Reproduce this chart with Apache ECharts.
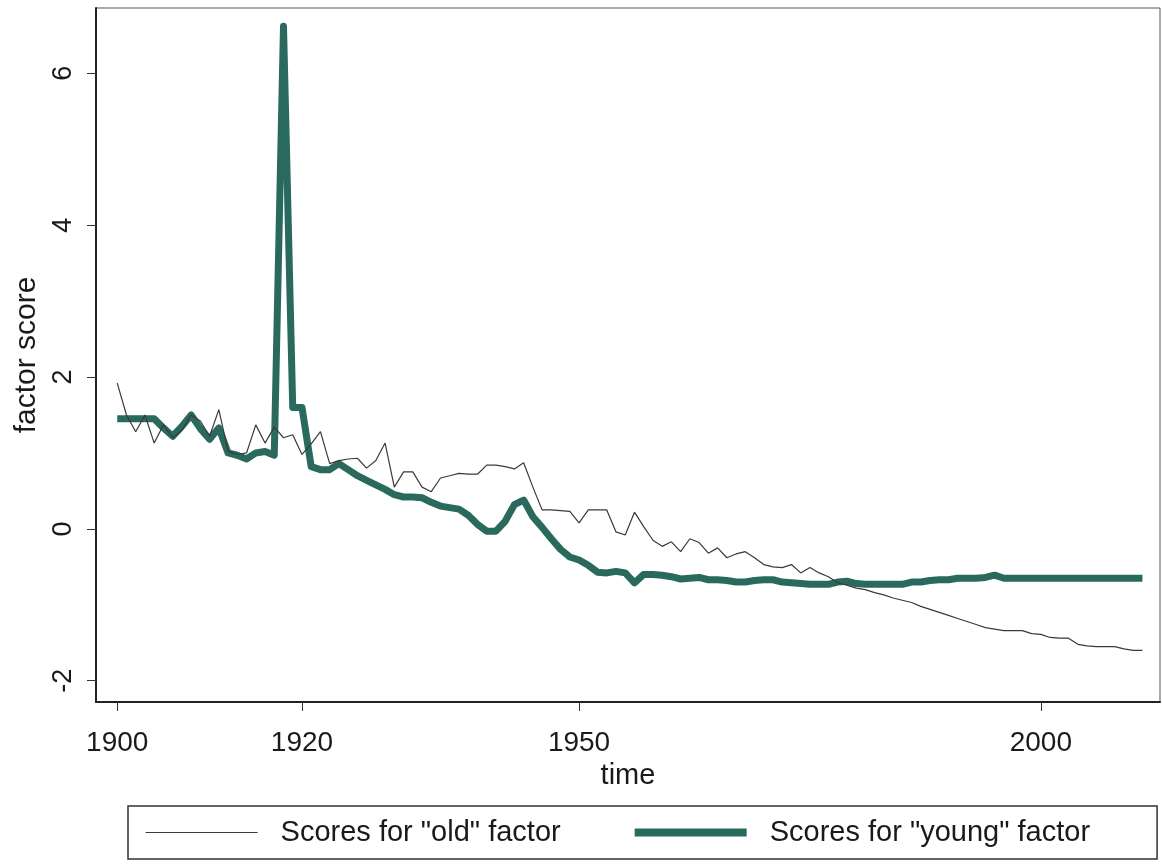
<!DOCTYPE html>
<html>
<head>
<meta charset="utf-8">
<script src="https://cdn.jsdelivr.net/npm/echarts@6/dist/echarts.min.js"></script>
<style>
html,body{margin:0;padding:0;background:#fff;}
#chart{width:1162px;height:865px;}
</style>
</head>
<body>
<div id="chart"></div>
<script>
const startYear = 1900;
const oldScores = [
  1.92, 1.5, 1.28, 1.5, 1.13, 1.37, 1.2, 1.3, 1.5, 1.42,
  1.22, 1.57, 1.02, 0.98, 1.0, 1.37, 1.13, 1.34, 1.2, 1.24,
  0.98, 1.12, 1.28, 0.86, 0.9, 0.92, 0.93, 0.8, 0.9, 1.13,
  0.55, 0.75, 0.75, 0.55, 0.49, 0.67, 0.7, 0.73, 0.72, 0.72,
  0.84, 0.84, 0.82, 0.79, 0.87, 0.55, 0.25, 0.25, 0.24, 0.23,
  0.08, 0.25, 0.25, 0.25, -0.04, -0.08, 0.22, 0.03, -0.15, -0.23,
  -0.17, -0.3, -0.13, -0.18, -0.32, -0.25, -0.38, -0.33, -0.3, -0.38,
  -0.47, -0.5, -0.51, -0.47, -0.58, -0.51, -0.58, -0.63, -0.71, -0.74,
  -0.78, -0.8, -0.84, -0.87, -0.91, -0.94, -0.97, -1.02, -1.06, -1.1,
  -1.14, -1.18, -1.22, -1.26, -1.3, -1.32, -1.34, -1.34, -1.34, -1.38,
  -1.39, -1.43, -1.44, -1.44, -1.52, -1.54, -1.55, -1.55, -1.55, -1.58,
  -1.6, -1.6
];
const youngScores = [
  1.45, 1.45, 1.45, 1.45, 1.45, 1.33, 1.22, 1.35, 1.5, 1.32,
  1.18, 1.33, 1.0, 0.97, 0.92, 1.0, 1.02, 0.97, 6.62, 1.6,
  1.6, 0.82, 0.78, 0.78, 0.86, 0.78, 0.7, 0.64, 0.58, 0.52,
  0.45, 0.42, 0.42, 0.41, 0.35, 0.3, 0.28, 0.26, 0.18, 0.06,
  -0.03, -0.03, 0.1, 0.32, 0.38, 0.16, 0.02, -0.13, -0.27, -0.37,
  -0.41, -0.48, -0.57, -0.58, -0.56, -0.58, -0.71, -0.6, -0.6, -0.61,
  -0.63, -0.66, -0.65, -0.64, -0.67, -0.67, -0.68, -0.7, -0.7, -0.68,
  -0.67, -0.67, -0.7, -0.71, -0.72, -0.73, -0.73, -0.73, -0.7, -0.69,
  -0.72, -0.73, -0.73, -0.73, -0.73, -0.73, -0.7, -0.7, -0.68, -0.67,
  -0.67, -0.65, -0.65, -0.65, -0.64, -0.61, -0.65, -0.65, -0.65, -0.65,
  -0.65, -0.65, -0.65, -0.65, -0.65, -0.65, -0.65, -0.65, -0.65, -0.65,
  -0.65, -0.65
];
const xTicks = [1900, 1920, 1950, 2000];
const yTicks = [-2, 0, 2, 4, 6];
const oldName = 'Scores for "old" factor';
const youngName = 'Scores for "young" factor';
const xTitle = 'time';
const yTitle = 'factor score';

const oldData = oldScores.map((v, i) => [startYear + i, v]);
const youngData = youngScores.map((v, i) => [startYear + i, v]);

const FONT = '"Liberation Sans", Arial, sans-serif';
const OLD_COLOR = '#3a3a3a';
const YOUNG_COLOR = '#2a6a5e';
const chart = echarts.init(document.getElementById('chart'));
chart.setOption({
  animation: false,
  backgroundColor: '#ffffff',
  grid: {
    left: 96, right: 2, top: 8, bottom: 163,
    show: true, borderColor: '#555', borderWidth: 1
  },
  legend: {
    left: 128, top: 806,
    padding: [12, 67, 12, 17],
    borderColor: '#333', borderWidth: 1.5,
    itemWidth: 112, itemHeight: 14, itemGap: 70,
    itemStyle: { opacity: 0 },
    textStyle: { fontFamily: FONT, fontSize: 29, color: '#1a1a1a', padding: [0, 0, 0, 18] },
    data: [
      { name: oldName, lineStyle: { width: 1.2, color: OLD_COLOR } },
      { name: youngName, lineStyle: { width: 8, color: YOUNG_COLOR } }
    ]
  },
  xAxis: {
    type: 'value', min: 1897.7, max: 2012.9,
    name: xTitle, nameLocation: 'middle', nameGap: 58,
    nameTextStyle: { fontFamily: FONT, fontSize: 29, color: '#1a1a1a' },
    axisLine: { show: true, onZero: false, lineStyle: { color: '#222', width: 2 } },
    axisTick: { show: true, length: 9, lineStyle: { color: '#333', width: 1 }, customValues: xTicks },
    axisLabel: { fontFamily: FONT, fontSize: 28, color: '#1a1a1a', margin: 27, customValues: xTicks,
      formatter: v => String(v) },
    splitLine: { show: false }
  },
  yAxis: {
    type: 'value', min: -2.28, max: 6.86,
    name: yTitle, nameLocation: 'middle', nameGap: 54,
    nameTextStyle: { fontFamily: FONT, fontSize: 30, color: '#1a1a1a' },
    axisLine: { show: true, onZero: false, lineStyle: { color: '#222', width: 2 } },
    axisTick: { show: true, length: 9, lineStyle: { color: '#333', width: 1 }, customValues: yTicks },
    axisLabel: { fontFamily: FONT, fontSize: 27, color: '#1a1a1a', rotate: 90, margin: 19, customValues: yTicks },
    splitLine: { show: false }
  },
  series: [
    {
      name: oldName, type: 'line', data: oldData, symbol: 'none',
      lineStyle: { color: OLD_COLOR, width: 1.2 },
      itemStyle: { color: OLD_COLOR }, z: 3
    },
    {
      name: youngName, type: 'line', data: youngData, symbol: 'none',
      lineStyle: { color: YOUNG_COLOR, width: 7, join: 'round' },
      itemStyle: { color: YOUNG_COLOR }, z: 2
    }
  ]
});
</script>
</body>
</html>
